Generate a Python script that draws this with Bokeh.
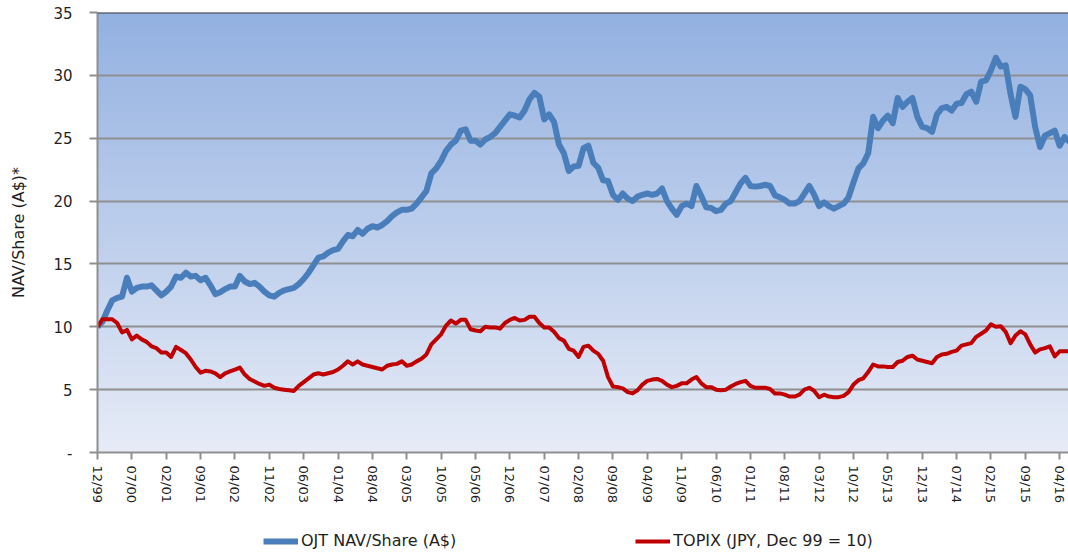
import numpy as np
from bokeh.plotting import figure
from bokeh.layouts import column
from bokeh.models import Range1d, FixedTicker, Legend, LegendItem, Span
from bokeh.embed import file_html
from bokeh.resources import INLINE

# ---- data (monthly, starting Dec 1999) ----
nav = [
    10.0, 10.4, 11.3, 12.1, 12.3, 12.4, 13.9, 12.8, 13.1, 13.2,
    13.2, 13.3, 12.9, 12.5, 12.8, 13.2, 14.0, 13.9, 14.3, 14.0,
    14.05, 13.7, 13.9, 13.3, 12.6, 12.75, 13.0, 13.2, 13.2, 14.05,
    13.6, 13.4, 13.5, 13.2, 12.8, 12.5, 12.4, 12.7, 12.9, 13.0,
    13.1, 13.4, 13.8, 14.3, 14.9, 15.5, 15.6, 15.9, 16.1, 16.2,
    16.8, 17.3, 17.2, 17.7, 17.4, 17.8, 18.0, 17.9, 18.1, 18.4,
    18.8, 19.1, 19.3, 19.3, 19.4, 19.8, 20.3, 20.8, 22.2, 22.6,
    23.2, 24.0, 24.5, 24.8, 25.6, 25.7, 24.8, 24.8, 24.5, 24.9,
    25.1, 25.4, 25.9, 26.4, 26.9, 26.8, 26.65, 27.2, 28.1, 28.6,
    28.3, 26.5, 26.9, 26.3, 24.5, 23.8, 22.4, 22.75, 22.8, 24.2,
    24.4, 23.05, 22.65, 21.65, 21.6, 20.5, 20.1, 20.6, 20.2, 20.0,
    20.35, 20.5, 20.6, 20.5, 20.6, 21.0, 20.0, 19.4, 18.9, 19.6,
    19.8, 19.6, 21.2, 20.4, 19.5, 19.45, 19.2, 19.3, 19.8, 20.0,
    20.7, 21.4, 21.85, 21.2, 21.15, 21.2, 21.3, 21.2, 20.45, 20.3,
    20.1, 19.8, 19.8, 20.0, 20.6, 21.2, 20.5, 19.6, 19.9, 19.6,
    19.4, 19.6, 19.8, 20.3, 21.5, 22.6, 23.0, 23.8, 26.7, 25.8,
    26.4, 26.8, 26.2, 28.2, 27.5, 27.9, 28.2, 26.7, 25.9, 25.8,
    25.5, 26.9, 27.4, 27.5, 27.2, 27.75, 27.8, 28.5, 28.7, 27.9,
    29.5, 29.6, 30.4, 31.4, 30.7, 30.8, 28.5, 26.7, 29.1, 28.9,
    28.4, 25.9, 24.3, 25.2, 25.4, 25.6, 24.4, 25.1, 24.7,
]

topix = [
    10.0, 10.6, 10.6, 10.6, 10.3, 9.55, 9.75, 9.0, 9.3, 9.0,
    8.8, 8.45, 8.3, 7.95, 7.95, 7.6, 8.4, 8.15, 7.9, 7.4,
    6.8, 6.35, 6.5, 6.45, 6.3, 6.0, 6.3, 6.45, 6.6, 6.75,
    6.2, 5.85, 5.65, 5.45, 5.3, 5.4, 5.15, 5.05, 5.0, 4.95,
    4.9, 5.3, 5.6, 5.9, 6.2, 6.3, 6.2, 6.3, 6.4, 6.6,
    6.9, 7.25, 7.0, 7.25, 7.0, 6.9, 6.8, 6.7, 6.6, 6.9,
    7.0, 7.05, 7.25, 6.9, 7.0, 7.25, 7.45, 7.8, 8.6, 9.0,
    9.4, 10.1, 10.5, 10.25, 10.55, 10.55, 9.8, 9.7, 9.65, 10.0,
    9.95, 9.95, 9.85, 10.3, 10.55, 10.7, 10.5, 10.55, 10.8, 10.8,
    10.3, 9.95, 9.95, 9.6, 9.1, 8.9, 8.25, 8.1, 7.6, 8.4,
    8.5, 8.1, 7.85, 7.3, 6.0, 5.25, 5.2, 5.1, 4.8, 4.7,
    4.95, 5.4, 5.7, 5.8, 5.85, 5.7, 5.4, 5.2, 5.3, 5.5,
    5.5, 5.8, 6.0, 5.5, 5.2, 5.2, 5.0, 4.95, 5.0, 5.25,
    5.45, 5.6, 5.7, 5.3, 5.15, 5.15, 5.15, 5.05, 4.7, 4.7,
    4.6, 4.45, 4.45, 4.6, 5.0, 5.15, 4.9, 4.4, 4.6, 4.45,
    4.4, 4.4, 4.5, 4.8, 5.4, 5.75, 5.9, 6.4, 7.0, 6.85,
    6.85, 6.8, 6.8, 7.2, 7.3, 7.6, 7.7, 7.4, 7.3, 7.2,
    7.1, 7.6, 7.8, 7.85, 8.0, 8.1, 8.5, 8.6, 8.7, 9.2,
    9.45, 9.7, 10.2, 10.0, 10.05, 9.6, 8.7, 9.3, 9.65, 9.4,
    8.6, 7.95, 8.2, 8.3, 8.45, 7.65, 8.05, 8.05, 8.05,
]

x_tick_labels = [
    "12/99", "07/00", "02/01", "09/01", "04/02", "11/02", "06/03", "01/04",
    "08/04", "03/05", "10/05", "05/06", "12/06", "07/07", "02/08", "09/08",
    "04/09", "11/09", "06/10", "01/11", "08/11", "03/12", "10/12", "05/13",
    "12/13", "07/14", "02/15", "09/15", "04/16",
]
y_ticks = [0, 5, 10, 15, 20, 25, 30, 35]
series_names = ["OJT NAV/Share (A$)", "TOPIX (JPY, Dec 99 = 10)"]
y_axis_title = "NAV/Share (A$)*"

# ---- layout / style ----
MONTHS_PER_TICK = 7
months = list(range(len(nav)))
tick_pos = [i * MONTHS_PER_TICK for i in range(len(x_tick_labels))]
X_END = 197.8
FONT = "DejaVu Sans"
TXT = "#1f1f1f"
GRID = "#8f8f8f"
NAV_COLOR = "#4a7ebb"
TOPIX_COLOR = "#c00000"

p = figure(
    width=1068, height=510,
    x_range=Range1d(0, X_END), y_range=Range1d(0, 35),
    output_backend="svg", toolbar_location=None, title=None,
    min_border_left=97, min_border_right=0, min_border_top=12, min_border_bottom=58,
    background_fill_color="white", border_fill_color="white",
)
p.outline_line_color = None

# gradient plot-area background
n = 256
t = np.linspace(0, 1, n)[:, None]
top_c = np.array([147, 177, 225], dtype=float)
bot_c = np.array([231, 236, 247], dtype=float)
rgb = bot_c + (top_c - bot_c) * t
img = np.zeros((n, 2), dtype=np.uint32)
view = img.view(dtype=np.uint8).reshape((n, 2, 4))
for k in range(3):
    view[:, :, k] = rgb[:, k][:, None].astype(np.uint8)
view[:, :, 3] = 255
p.image_rgba(image=[img], x=0, y=0, dw=X_END, dh=35, level="image")

# grid
p.xgrid.visible = False
p.ygrid.ticker = FixedTicker(ticks=y_ticks)
p.ygrid.grid_line_color = GRID
p.ygrid.grid_line_width = 2
p.ygrid.level = "underlay"
p.add_layout(Span(location=35, dimension="width", line_color="#3c3c3c", line_width=2))

# lines
p.line(months, nav, line_color=NAV_COLOR, line_width=6, line_join="round")
p.line(months, topix, line_color=TOPIX_COLOR, line_width=4, line_join="round")

# y axis
ya = p.yaxis[0]
ya.ticker = FixedTicker(ticks=y_ticks)
ya.major_label_overrides = {0: "-"}
ya.axis_line_color = GRID
ya.axis_line_width = 2
ya.major_tick_line_color = GRID
ya.major_tick_line_width = 2
ya.major_tick_out = 8
ya.major_tick_in = 0
ya.minor_tick_out = 0
ya.minor_tick_in = 0
ya.major_label_standoff = 17
ya.major_label_text_font = FONT
ya.major_label_text_font_size = "15px"
ya.major_label_text_color = TXT
ya.axis_label = y_axis_title
ya.axis_label_text_font = FONT
ya.axis_label_text_font_size = "16px"
ya.axis_label_text_font_style = "normal"
ya.axis_label_text_color = TXT
ya.axis_label_standoff = 22

# x axis
xa = p.xaxis[0]
xa.ticker = FixedTicker(ticks=tick_pos)
xa.major_label_overrides = {pos: lab for pos, lab in zip(tick_pos, x_tick_labels)}
xa.major_label_orientation = "vertical"
xa.axis_line_color = GRID
xa.axis_line_width = 2
xa.major_tick_line_color = GRID
xa.major_tick_line_width = 2
xa.major_tick_out = 7
xa.major_tick_in = 0
xa.minor_tick_out = 0
xa.minor_tick_in = 0
xa.major_label_standoff = 6
xa.major_label_text_font = FONT
xa.major_label_text_font_size = "13px"
xa.major_label_text_color = TXT

# ---- legend strip below the chart (its frame aligns with the chart's frame) ----
lg = figure(
    width=1068, height=44, x_range=Range1d(0, X_END), y_range=Range1d(-2, -1),
    output_backend="svg", toolbar_location=None, title=None,
    min_border_left=97, min_border_right=0, min_border_top=0, min_border_bottom=0,
    background_fill_color="white", border_fill_color="white",
)
lg.outline_line_color = None
lg.axis.visible = False
lg.grid.visible = False
# same series, outside this strip's visible range: only their legend swatches show
k_nav = lg.line(months, nav, line_color=NAV_COLOR, line_width=6)
k_top = lg.line(months, topix, line_color=TOPIX_COLOR, line_width=4)
legend = Legend(
    items=[LegendItem(label=series_names[0], renderers=[k_nav]),
           LegendItem(label=series_names[1], renderers=[k_top])],
    orientation="horizontal", location=(166, 4), spacing=179,
    glyph_width=35, glyph_height=16, label_height=16, label_standoff=3,
    padding=0, margin=0, border_line_color=None, background_fill_alpha=0,
    label_text_font=FONT, label_text_font_size="16px", label_text_color=TXT,
)
lg.add_layout(legend, "center")

layout = column(p, lg, spacing=0)
open("out.html", "w").write(file_html(layout, INLINE))
